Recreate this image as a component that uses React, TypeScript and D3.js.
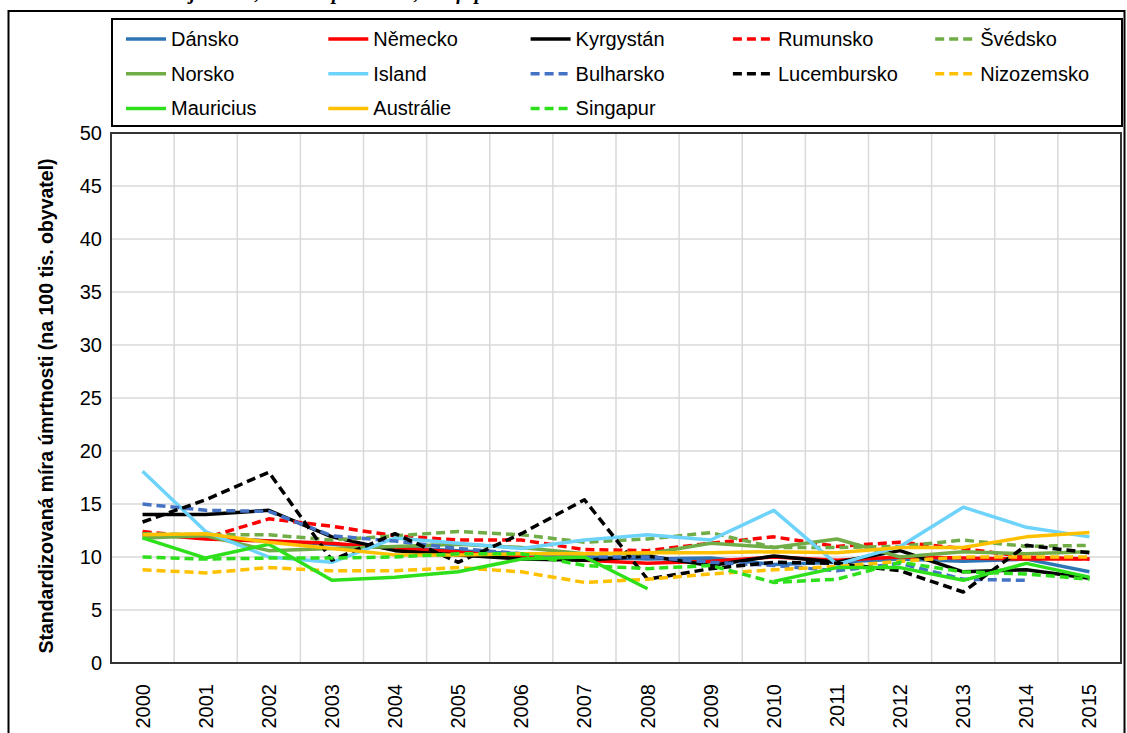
import React from 'react';
import * as d3 from 'd3';

const years = ['2000', '2001', '2002', '2003', '2004', '2005', '2006', '2007', '2008', '2009', '2010', '2011', '2012', '2013', '2014', '2015'];

// standardizovaná míra úmrtnosti na 100 tis. obyvatel
const dansko = [12.0, 11.9, 11.5, 11.2, 10.9, 10.6, 10.3, 10.0, 9.8, 9.9, 9.3, 9.5, 9.8, 9.6, 9.8, 8.6];
const nemecko = [12.2, 11.7, 11.5, 11.3, 10.8, 10.5, 10.0, 9.7, 9.4, 9.6, 10.0, 9.7, 10.0, 9.9, 9.8, 9.8];
const kyrgystan = [14.0, 14.0, 14.4, 11.9, 10.6, 10.2, 9.8, 9.7, 10.1, 9.2, 10.1, 9.5, 10.6, 8.6, 8.8, 8.0];
const rumunsko = [12.4, 11.8, 13.6, 12.9, 12.0, 11.6, 11.6, 10.7, 10.6, 11.3, 11.9, 11.0, 11.4, 10.8, 10.0, 9.8];
const svedsko = [12.2, 12.1, 12.1, 11.6, 12.0, 12.4, 12.1, 11.4, 11.7, 12.3, 10.9, 10.9, 11.0, 11.6, 11.0, 11.1];
const norsko = [11.8, 12.0, 10.6, 10.8, 11.0, 11.2, 10.9, 10.3, 10.3, 11.3, 10.9, 11.7, 10.0, 10.5, 10.3, 10.5];
const island = [18.1, 12.4, 10.0, 9.5, 11.8, 11.3, 10.8, 11.6, 12.1, 11.6, 14.4, 9.3, 11.0, 14.7, 12.8, 11.9];
const bulharsko = [15.0, 14.4, 14.3, 12.0, 11.5, 10.8, 10.3, 10.0, 10.0, 9.5, 9.2, 8.7, 9.4, 7.9, 7.8, null];
const lucembursko = [13.3, 15.4, 18.0, 9.7, 12.2, 9.5, 12.2, 15.4, 7.9, 8.9, 9.5, 9.4, 8.7, 6.7, 11.1, 10.4];
const nizozemsko = [8.8, 8.5, 9.0, 8.7, 8.7, 9.0, 8.6, 7.6, 7.9, 8.4, 8.8, 9.1, 9.6, 10.0, 10.0, 10.0];
const mauricius = [11.8, 9.9, 11.2, 7.8, 8.1, 8.6, 9.8, 10.0, 7.0, null, 7.7, 9.0, 9.0, 7.8, 9.4, 8.1];
const australie = [12.1, 12.2, 11.4, 10.8, 10.2, 10.2, 10.3, 10.3, 10.4, 10.4, 10.5, 10.4, 10.9, 10.9, 11.9, 12.3];
const singapur = [10.0, 9.8, 9.9, 9.9, 10.0, 10.3, 10.3, 9.2, 8.9, 9.2, 7.6, 7.9, 9.5, 8.6, 8.4, 7.9];

const series = [
  { name: 'Dánsko', values: dansko, color: '#2e75b6', dashed: false },
  { name: 'Německo', values: nemecko, color: '#ff0000', dashed: false },
  { name: 'Kyrgystán', values: kyrgystan, color: '#000000', dashed: false },
  { name: 'Rumunsko', values: rumunsko, color: '#ff0000', dashed: true },
  { name: 'Švédsko', values: svedsko, color: '#70ad47', dashed: true },
  { name: 'Norsko', values: norsko, color: '#70ad47', dashed: false },
  { name: 'Island', values: island, color: '#6dd3fb', dashed: false },
  { name: 'Bulharsko', values: bulharsko, color: '#4472c4', dashed: true },
  { name: 'Lucembursko', values: lucembursko, color: '#000000', dashed: true },
  { name: 'Nizozemsko', values: nizozemsko, color: '#ffc000', dashed: true },
  { name: 'Mauricius', values: mauricius, color: '#2ee01c', dashed: false },
  { name: 'Austrálie', values: australie, color: '#ffc000', dashed: false },
  { name: 'Singapur', values: singapur, color: '#2ee01c', dashed: true },
];

const W = 1127, H = 733;
const m = { left: 111, right: 1121, top: 133, bottom: 663 };
const font = '"Liberation Sans", Arial, sans-serif';

export default function App() {
  const x = d3.scaleBand().domain(years).range([m.left, m.right]);
  const y = d3.scaleLinear().domain([0, 50]).range([m.bottom, m.top]);
  const cx = (i: number) => (x(years[i]) as number) + x.bandwidth() / 2;
  const line = d3.line<number | null>()
    .defined(d => d != null)
    .x((_, i) => cx(i))
    .y(d => y(d as number));

  const yTicks = y.ticks(10);
  const bounds = [...years.map(yr => x(yr) as number), m.right];

  return (
    <svg width={W} height={H} style={{ position: 'absolute', left: 0, top: 0, background: '#fff' }}>
      {/* caption, mostly above the top edge as in the source */}
      <text x={150} y={-1} fontFamily="'Liberation Serif', serif" fontStyle="italic" fontWeight="bold" fontSize={20}>
        Zdroj: WHO, vlastní zpracování, Graf: p
      </text>
      <rect x={8.5} y={11} width={1116} height={740} fill="none" stroke="#000" strokeWidth={2} />

      {/* legend */}
      <rect x={112} y={19} width={1010} height={107} fill="#fff" stroke="#000" strokeWidth={2} />
      {series.map((s, i) => {
        const col = i % 5, row = Math.floor(i / 5);
        const lx = 126 + col * 202.3, ly = 39 + row * 34.7;
        return (
          <g key={s.name}>
            <line x1={lx} x2={lx + 40} y1={ly} y2={ly} stroke={s.color} strokeWidth={3.5}
              strokeDasharray={s.dashed ? '9,5' : undefined} />
            <text x={lx + 45} y={ly} dy="0.35em" fontFamily={font} fontSize={20}>{s.name}</text>
          </g>
        );
      })}

      {/* grid */}
      {yTicks.map(t => (
        <line key={'h' + t} x1={m.left} x2={m.right} y1={y(t)} y2={y(t)} stroke="#d9d9d9" strokeWidth={1.5} />
      ))}
      {bounds.map((b, i) => (
        <line key={'v' + i} x1={b} x2={b} y1={m.top} y2={m.bottom} stroke="#d9d9d9" strokeWidth={1.5} />
      ))}

      {/* series */}
      {series.map(s => (
        <path key={s.name} d={line(s.values) || ''} fill="none" stroke={s.color} strokeWidth={3.5}
          strokeLinejoin="round" strokeDasharray={s.dashed ? '9,5' : undefined} />
      ))}

      <rect x={m.left} y={m.top} width={m.right - m.left} height={m.bottom - m.top} fill="none" stroke="#333" strokeWidth={2} />

      {/* y axis */}
      {yTicks.map(t => (
        <text key={'yl' + t} x={102} y={y(t)} dy="0.35em" textAnchor="end" fontFamily={font} fontSize={20}>{t}</text>
      ))}
      <text transform={`translate(46,${(m.top + m.bottom) / 2 + 8}) rotate(-90)`} textAnchor="middle" dy="0.35em"
        fontFamily={font} fontWeight="bold" fontSize={19.5}>
        Standardizovaná míra úmrtnosti (na 100 tis. obyvatel)
      </text>

      {/* x axis */}
      {years.map((yr, i) => (
        <text key={yr} transform={`translate(${cx(i)},684) rotate(-90)`} textAnchor="end" dy="0.35em"
          fontFamily={font} fontSize={20}>{yr}</text>
      ))}
    </svg>
  );
}
